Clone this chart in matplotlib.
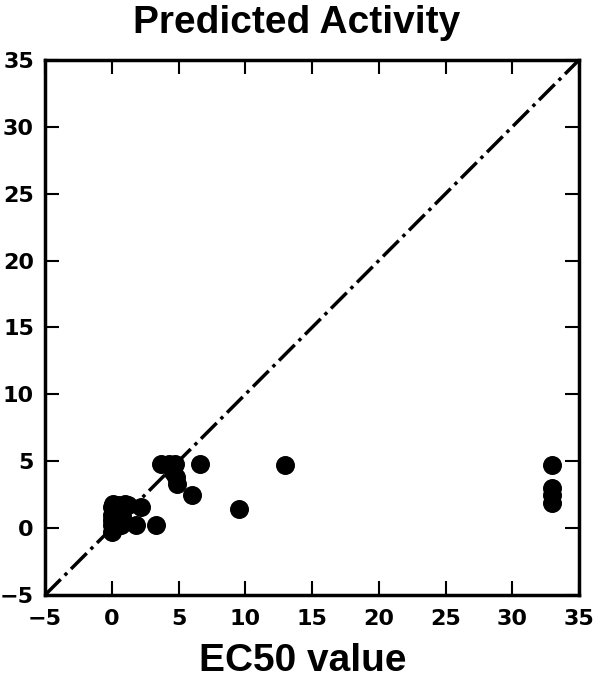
import matplotlib
matplotlib.use("Agg")
import matplotlib.pyplot as plt

# EC50 (x) vs predicted activity (y)
ec50 = [0.0, 0.0, 0.0, 0.0, 0.0, 0.1, 0.2, 0.3, 0.5, 0.6, 0.8, 1.0, 1.2, 0.4,
        0.2, 0.7, 2.2, 1.8, 3.3, 3.7, 4.3, 4.7, 4.6, 4.8, 4.9, 6.0, 6.6, 9.5,
        13.0, 33.0, 33.0, 33.0, 33.0]
predicted = [-0.3, 0.2, 0.6, 1.0, 1.6, 1.8, 0.0, 0.5, 1.7, 1.3, 0.9, 1.8, 1.7,
             0.3, 1.2, 0.2, 1.6, 0.2, 0.2, 4.8, 4.8, 4.8, 4.2, 3.8, 3.3, 2.5,
             4.8, 1.4, 4.7, 4.7, 3.0, 2.5, 1.9]
ticks = [-5, 0, 5, 10, 15, 20, 25, 30, 35]

plt.rcParams['font.family'] = ['Liberation Sans Narrow', 'DejaVu Sans']

fig = plt.figure(figsize=(5.94, 6.79), dpi=100)
ax = fig.add_axes([0.0758, 0.1237, 0.899, 0.788])

ax.plot([-5, 35], [-5, 35], color='k', linestyle='-.', linewidth=2.5)
ax.scatter(ec50, predicted, s=160, color='k', zorder=3)

ax.set_xlim(-5, 35)
ax.set_ylim(-5, 35)
ax.set_xticks(ticks)
ax.set_yticks(ticks)
labels = ['\u2212' + str(-t) if t < 0 else str(t) for t in ticks]
ax.set_xticklabels(labels)
ax.set_yticklabels(labels)
ax.tick_params(direction='in', length=10, width=1.5, top=True, right=True,
               labelsize=16)
ax.tick_params(axis='x', pad=10)
ax.tick_params(axis='y', pad=8)
for lab in ax.get_xticklabels() + ax.get_yticklabels():
    lab.set_fontweight('bold')
for sp in ax.spines.values():
    sp.set_linewidth(2.5)

fig.text(0.5, 0.993, 'Predicted Activity', ha='center', va='top',
         fontsize=28, fontweight='bold', family=['Liberation Sans', 'DejaVu Sans'])
fig.text(0.51, 0.0, 'EC50 value', ha='center', va='bottom',
         fontsize=28, fontweight='bold', family=['Liberation Sans', 'DejaVu Sans'])

fig.savefig('out.png', dpi=100)
